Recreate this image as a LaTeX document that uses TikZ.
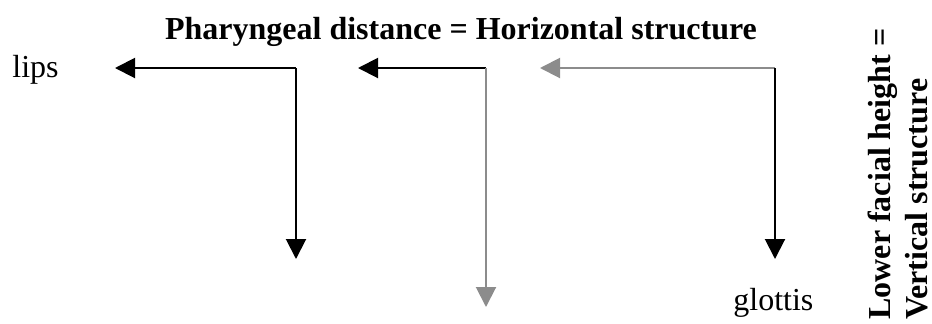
\documentclass[tikz,border=0pt]{standalone}
\usepackage{fontspec}
\setmainfont{Liberation Serif}
\usetikzlibrary{arrows.meta}
\begin{document}
\begin{tikzpicture}[x=0.5pt, y=-0.5pt, every node/.style={inner sep=0pt, font=\fontsize{16}{19}\selectfont}, >={Triangle[length=10pt, width=10pt]}, arr/.style={->, line width=1pt}, grey/.style={arr, black!45}]
        \useasboundingbox (0, 0) rectangle (932, 323);
        \node[anchor=base, font=\fontsize{16}{19}\selectfont\bfseries] (title) at (461, 39) {Pharyngeal distance = Horizontal structure};
        \node[anchor=base west] (lips) at (12, 77) {lips};
        \node[anchor=base west] (glottis) at (733, 310) {glottis};
        \node[rotate=90, anchor=north west, align=left, font=\fontsize{16}{18.5}\selectfont\bfseries] (vert) at (868, 320) {Lower facial height =\\Vertical structure};
        \coordinate (c1) at (296, 68); \coordinate (h1) at (115, 68); \coordinate (v1) at (296, 259);
        \coordinate (c2) at (486, 68); \coordinate (h2) at (358, 68); \coordinate (v2) at (486, 307);
        \coordinate (c3) at (775, 68); \coordinate (h3) at (540, 68); \coordinate (v3) at (775, 259);
        \draw[arr] (c1) -- (h1);
        \draw[arr] (c1) -- (v1);
        \draw[arr] (c2) -- (h2);
        \draw[grey] (c2) -- (v2);
        \draw[grey] (c3) -- (h3);
        \draw[arr] (c3) -- (v3);
    \end{tikzpicture}
\end{document}
